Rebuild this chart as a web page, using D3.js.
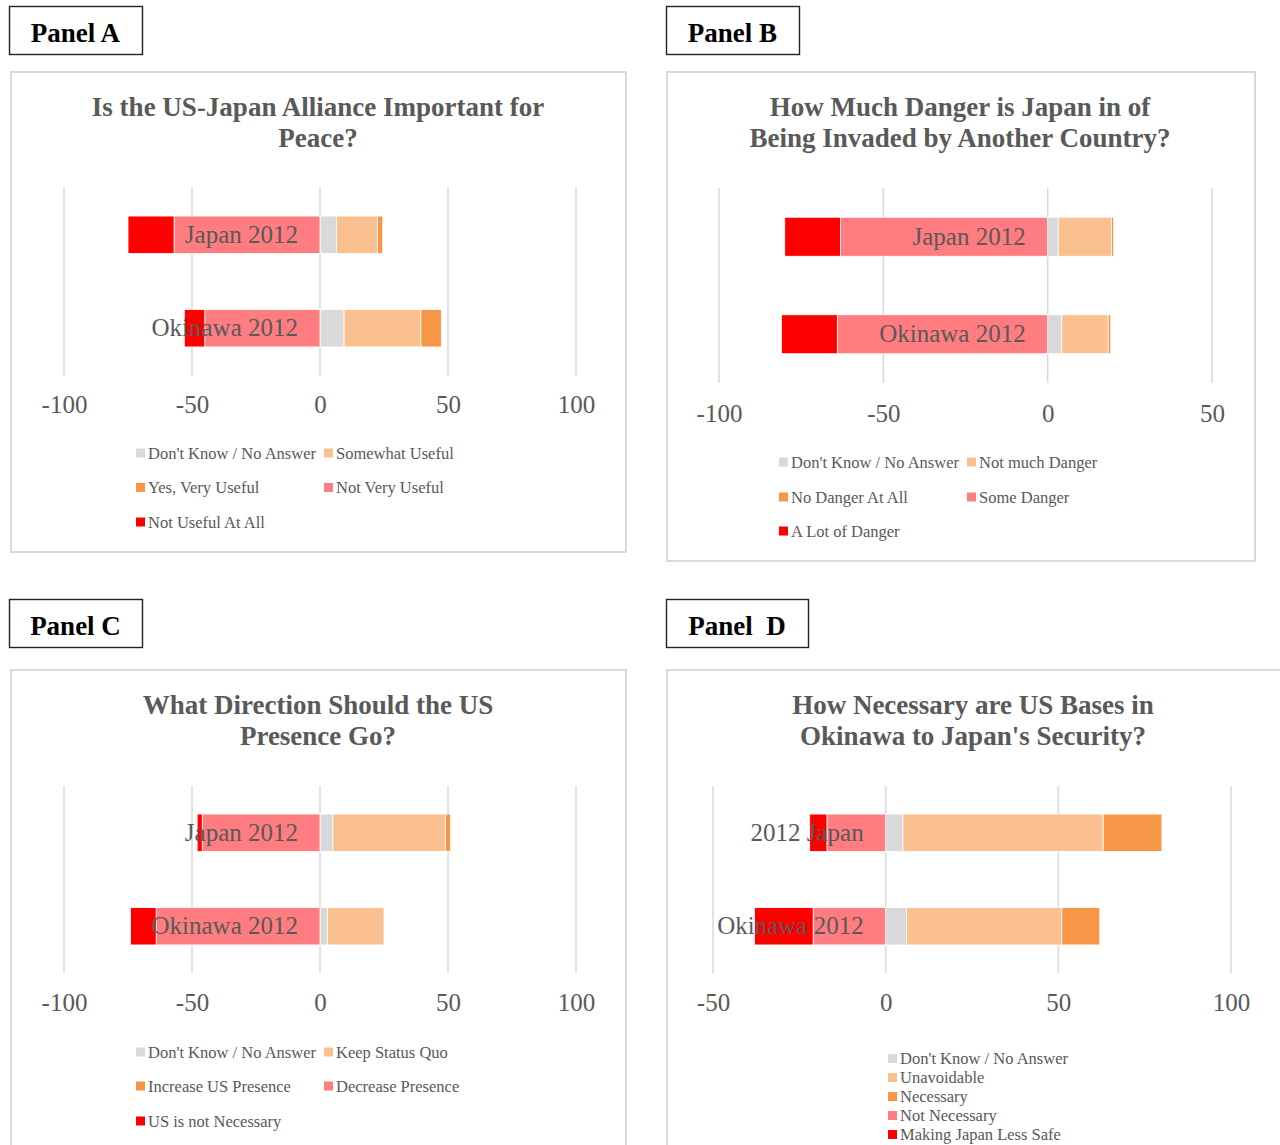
<!DOCTYPE html>
<html><head><meta charset="utf-8">
<script src="https://cdn.jsdelivr.net/npm/d3@7"></script>
<style>
body{margin:0;background:#fff}
svg{display:block}
text{font-family:"Liberation Serif","Times New Roman",serif}
</style>
</head><body>
<svg id="chart" width="1280" height="1145"></svg>
<script>
// ---------- DATA ----------
const seriesKeys = ["dk","pos1","pos2","neg1","neg2"];
const seriesColors = ["#D9D9D9","#FAC090","#F79646","#FF7C80","#FF0000"];

// Panel A
const catsA = ["Japan 2012","Okinawa 2012"];
const namesA = ["Don't Know / No Answer","Somewhat Useful","Yes, Very Useful","Not Very Useful","Not Useful At All"];
const dkA = [6.5, 9.4];
const pos1A = [16, 30];
const pos2A = [2, 8];
const neg1A = [57, 45];
const neg2A = [18, 8];
const ticksA = [-100, -50, 0, 50, 100];

// Panel B
const catsB = ["Japan 2012","Okinawa 2012"];
const namesB = ["Don't Know / No Answer","Not much Danger","No Danger At All","Some Danger","A Lot of Danger"];
const dkB = [3.2, 4.3];
const pos1B = [16.2, 14.1];
const pos2B = [0.7, 0.8];
const neg1B = [63, 64];
const neg2B = [17, 17];
const ticksB = [-100, -50, 0, 50];

// Panel C
const catsC = ["Japan 2012","Okinawa 2012"];
const namesC = ["Don't Know / No Answer","Keep Status Quo","Increase US Presence","Decrease Presence","US is not Necessary"];
const dkC = [5, 3];
const pos1C = [44, 22];
const pos2C = [2, 0];
const neg1C = [46, 64];
const neg2C = [2, 10];
const ticksC = [-100, -50, 0, 50, 100];

// Panel D
const catsD = ["2012 Japan","Okinawa 2012"];
const namesD = ["Don't Know / No Answer","Unavoidable","Necessary","Not Necessary","Making Japan Less Safe"];
const dkD = [5, 6];
const pos1D = [58, 45];
const pos2D = [17, 11];
const neg1D = [17, 21];
const neg2D = [5, 17];
const ticksD = [-50, 0, 50, 100];

// ---------- LAYOUT ----------
const panels = [
  {label:"Panel A", box:[9,6,133,48], frame:[10,71,616,480],
   title:["Is the US-Japan Alliance Important for","Peace?"], titleX:318, titleY:[116,147],
   cats:catsA, names:namesA, vals:[dkA,pos1A,pos2A,neg1A,neg2A], ticks:ticksA,
   xr:[64,576], plot:[188,375], tickY:413,
   legend:{cols:[136,324], rows:[453,487.5,522]}},
  {label:"Panel B", box:[666,6,133,48], frame:[666,71,589,489],
   title:["How Much Danger is Japan in of","Being Invaded by Another Country?"], titleX:960, titleY:[116,147],
   cats:catsB, names:namesB, vals:[dkB,pos1B,pos2B,neg1B,neg2B], ticks:ticksB,
   xr:[719,1212], plot:[188,383], tickY:422,
   legend:{cols:[779,967], rows:[462,497,531]}},
  {label:"Panel C", box:[9,599,133,48], frame:[10,669,616,500],
   title:["What Direction Should the US","Presence Go?"], titleX:318, titleY:[714,745],
   cats:catsC, names:namesC, vals:[dkC,pos1C,pos2C,neg1C,neg2C], ticks:ticksC,
   xr:[64,576], plot:[786,973], tickY:1011,
   legend:{cols:[136,324], rows:[1052,1086,1121]}},
  {label:"Panel  D", box:[666,599,142,48], frame:[666,669,640,500],
   title:["How Necessary are US Bases in","Okinawa to Japan's Security?"], titleX:973, titleY:[714,745],
   cats:catsD, names:namesD, vals:[dkD,pos1D,pos2D,neg1D,neg2D], ticks:ticksD,
   xr:[713,1231], plot:[786,973], tickY:1011,
   legend:{single:true, x:888, rows:[1058.5,1077.5,1096.5,1115.5,1134.5]}}
];

const svg = d3.select("#chart");
svg.append("rect").attr("width",1280).attr("height",1145).attr("fill","#fff");
const textColor = "#595959";

panels.forEach(p => {
  const g = svg.append("g");
  // label box
  g.append("rect").attr("x",p.box[0]+0.5).attr("y",p.box[1]+0.5)
    .attr("width",p.box[2]).attr("height",p.box[3])
    .attr("fill","#fff").attr("stroke","#222").attr("stroke-width",1.4);
  g.append("text").attr("x",p.box[0]+p.box[2]/2).attr("y",p.box[1]+36)
    .attr("text-anchor","middle").attr("font-weight","bold").attr("font-size",27)
    .attr("fill","#000").style("white-space","pre").text(p.label);
  // frame
  g.append("rect").attr("x",p.frame[0]+1).attr("y",p.frame[1]+1)
    .attr("width",p.frame[2]-1).attr("height",p.frame[3])
    .attr("fill","#fff").attr("stroke","#D9D9D9").attr("stroke-width",2);
  // title
  p.title.forEach((t,i) => {
    g.append("text").attr("x",p.titleX).attr("y",p.titleY[i])
      .attr("text-anchor","middle").attr("font-weight","bold").attr("font-size",27)
      .attr("fill",textColor).text(t);
  });

  const x = d3.scaleLinear().domain([p.ticks[0], p.ticks[p.ticks.length-1]]).range(p.xr);
  const y = d3.scaleBand().domain(p.cats).range(p.plot).paddingInner(0.6).paddingOuter(0.3);

  // gridlines
  g.append("g").selectAll("line").data(p.ticks).join("line")
    .attr("x1",d=>x(d)).attr("x2",d=>x(d)).attr("y1",p.plot[0]).attr("y2",p.plot[1])
    .attr("stroke","#D9D9D9").attr("stroke-width",1.5);

  // axis tick labels
  const axis = d3.axisBottom(x).tickValues(p.ticks).tickSize(0).tickPadding(0).tickFormat(d => String(d));
  const ax = g.append("g").attr("transform",`translate(0,${p.tickY})`).call(axis);
  ax.select(".domain").remove();
  ax.selectAll("text").attr("font-size",25).attr("fill",textColor)
    .attr("font-family","'Liberation Serif',serif").attr("dy",0).attr("y",0);

  // data table & diverging stack
  const table = p.cats.map((c,i) => {
    const row = {cat:c};
    seriesKeys.forEach((k,j) => { row[k] = (j>=3 ? -1 : 1) * p.vals[j][i]; });
    return row;
  });
  const stacked = d3.stack().keys(seriesKeys).offset(d3.stackOffsetDiverging)(table);
  const color = d3.scaleOrdinal().domain(seriesKeys).range(seriesColors);

  g.append("g").selectAll("g").data(stacked).join("g")
    .attr("fill", d=>color(d.key))
    .selectAll("rect").data(d=>d).join("rect")
    .attr("x", d=>x(Math.min(d[0],d[1])))
    .attr("width", d=>Math.abs(x(d[1])-x(d[0])))
    .attr("y", d=>y(d.data.cat))
    .attr("height", y.bandwidth())
    .attr("stroke", d=>Math.abs(d[1]-d[0])>0 ? "#fff" : "none").attr("stroke-width",0.8);

  // category labels (over bars)
  g.append("g").selectAll("text").data(p.cats).join("text")
    .attr("x", x(0)-22).attr("y", d=>y(d)+y.bandwidth()/2+8)
    .attr("text-anchor","end").attr("font-size",25).attr("fill",textColor).text(d=>d);

  // legend
  const lg = g.append("g");
  p.names.forEach((n,i) => {
    let lx, ly;
    if (p.legend.single) { lx = p.legend.x; ly = p.legend.rows[i]; }
    else { lx = p.legend.cols[i%2]; ly = p.legend.rows[Math.floor(i/2)]; }
    lg.append("rect").attr("x",lx).attr("y",ly-4.5).attr("width",9).attr("height",9)
      .attr("fill",seriesColors[i]);
    lg.append("text").attr("x",lx+12).attr("y",ly+5.5).attr("font-size",16.5)
      .attr("fill",textColor).text(n);
  });
});
</script>
</body></html>
